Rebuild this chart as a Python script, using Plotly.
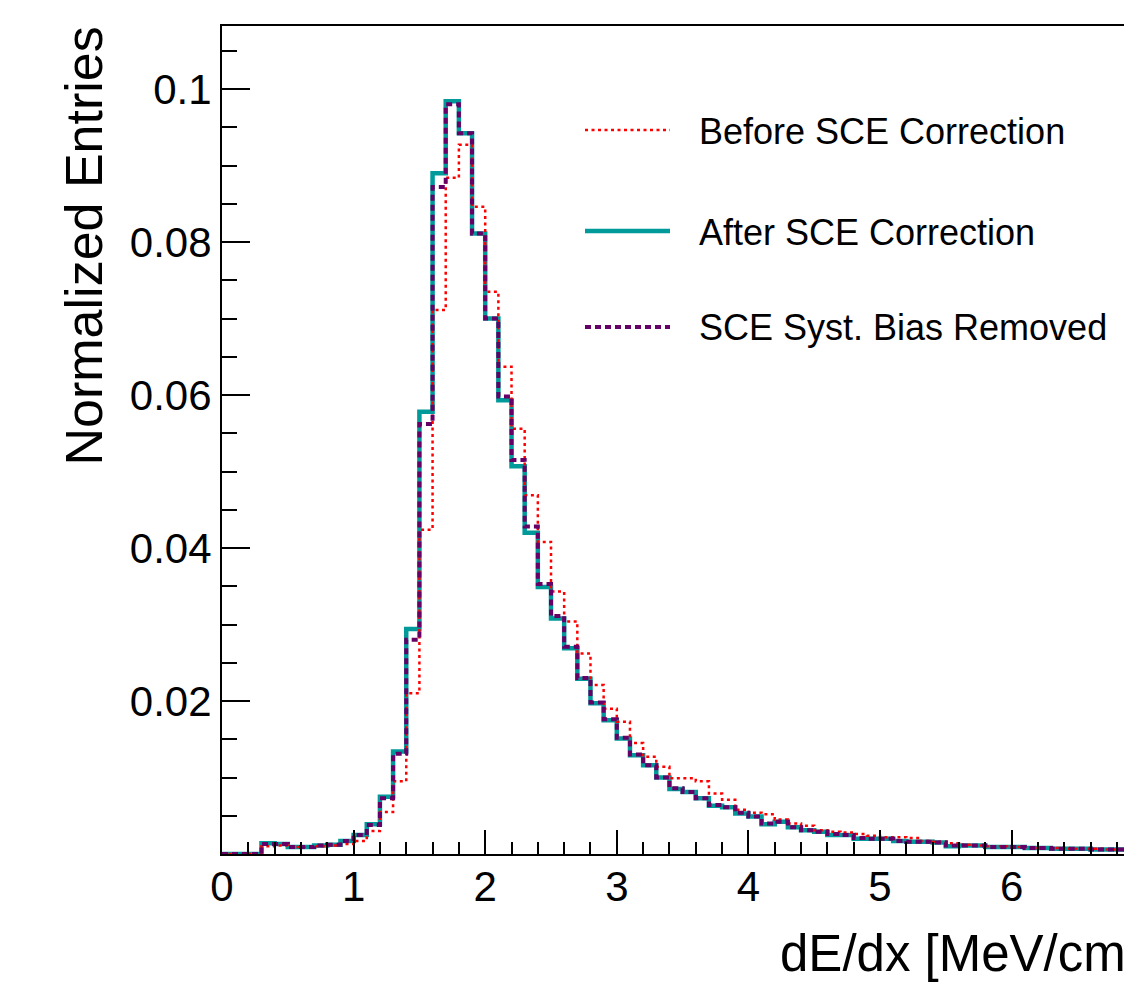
import plotly.graph_objects as go

# ---- data (bin width 0.1, bins start at these lower edges) ----
bin_low = [round(0.1 * i, 1) for i in range(69)]  # 0.0 ... 6.8
bin_width = 0.1

after_sce = [
    0.0, 0.0, 0.0, 0.0014, 0.0013, 0.0009, 0.0009, 0.0011, 0.0012, 0.0017,
    0.0025, 0.0039, 0.0075, 0.0134, 0.0294, 0.0578, 0.0890, 0.0984, 0.0942, 0.0811,
    0.0700, 0.0593, 0.0507, 0.0420, 0.0349, 0.0308, 0.0269, 0.0229, 0.0197, 0.0175,
    0.0151, 0.0129, 0.0116, 0.0100, 0.0085, 0.0081, 0.0073, 0.0063, 0.0061, 0.0053,
    0.0049, 0.0039, 0.0042, 0.0035, 0.0031, 0.0029, 0.0025, 0.0025, 0.0020, 0.0020,
    0.0020, 0.0017, 0.0016, 0.0016, 0.0015, 0.0010, 0.0011, 0.0011, 0.0009, 0.0009,
    0.0009, 0.0008, 0.0008, 0.0007, 0.0007, 0.0007, 0.0006, 0.0006, 0.0006,
]

bias_removed = [
    0.0, 0.0, 0.0, 0.0013, 0.0013, 0.0009, 0.0009, 0.0011, 0.0012, 0.0017,
    0.0025, 0.0038, 0.0073, 0.0131, 0.0280, 0.0562, 0.0872, 0.0980, 0.0942, 0.0811,
    0.0700, 0.0598, 0.0515, 0.0428, 0.0353, 0.0311, 0.0271, 0.0230, 0.0198, 0.0176,
    0.0152, 0.0130, 0.0116, 0.0100, 0.0086, 0.0081, 0.0073, 0.0064, 0.0061, 0.0054,
    0.0049, 0.0040, 0.0042, 0.0035, 0.0031, 0.0029, 0.0026, 0.0025, 0.0021, 0.0020,
    0.0020, 0.0017, 0.0016, 0.0016, 0.0015, 0.0011, 0.0011, 0.0011, 0.0009, 0.0009,
    0.0009, 0.0008, 0.0008, 0.0007, 0.0007, 0.0007, 0.0006, 0.0006, 0.0006,
]

before_sce = [
    0.0, 0.0, 0.0, 0.0010, 0.0011, 0.0009, 0.0009, 0.0010, 0.0011, 0.0013,
    0.0017, 0.0030, 0.0055, 0.0095, 0.0210, 0.0424, 0.0711, 0.0884, 0.0927, 0.0846,
    0.0735, 0.0637, 0.0556, 0.0469, 0.0408, 0.0343, 0.0304, 0.0262, 0.0221, 0.0190,
    0.0173, 0.0145, 0.0127, 0.0114, 0.0099, 0.0099, 0.0095, 0.0079, 0.0071, 0.0058,
    0.0054, 0.0052, 0.0045, 0.0040, 0.0037, 0.0031, 0.0029, 0.0028, 0.0026, 0.0024,
    0.0022, 0.0022, 0.0021, 0.0017, 0.0016, 0.0014, 0.0012, 0.0011, 0.0010, 0.0010,
    0.0009, 0.0008, 0.0008, 0.0008, 0.0007, 0.0007, 0.0007, 0.0006, 0.0006,
]

series_names = ["Before SCE Correction", "After SCE Correction", "SCE Syst. Bias Removed"]
y_tick_vals = [0.02, 0.04, 0.06, 0.08, 0.1]
y_tick_text = ["0.02", "0.04", "0.06", "0.08", "0.1"]
x_tick_vals = [0, 1, 2, 3, 4, 5, 6]

# ---- styles ----
FONT = "Liberation Sans, Arial, Helvetica, sans-serif"
RED = "#ff0000"
TEAL = "#009a9a"
PURPLE = "#660066"

W, H = 1124, 985
L, R, T, B = 222, 0, 26, 131
PW, PH = W - L - R, H - T - B
X_PER_UNIT = 131.6
X_MAX = PW / X_PER_UNIT
Y_MAX = PH / 7650.0


def step_xy(vals):
    xs = list(bin_low) + [round(bin_low[-1] + bin_width, 1)]
    ys = list(vals) + [vals[-1]]
    return xs, ys


fig = go.Figure()

styles = {
    "after": dict(color=TEAL, width=4.5, dash="solid"),
    "before": dict(color=RED, width=2.5, dash="3px,3.5px"),
    "bias": dict(color=PURPLE, width=4, dash="6px,4px"),
}

for key, vals, name in [("after", after_sce, series_names[1]),
                        ("before", before_sce, series_names[0]),
                        ("bias", bias_removed, series_names[2])]:
    xs, ys = step_xy(vals)
    fig.add_trace(go.Scatter(x=xs, y=ys, mode="lines", name=name,
                             line=dict(shape="hv", **styles[key]),
                             showlegend=False, hoverinfo="skip"))

# ---- manual legend ----
def px_x(px):
    return (px - L) / PW


def px_y(py):
    return (H - B - py) / PH


legend_rows = [(series_names[0], "before", 130), (series_names[1], "after", 231),
               (series_names[2], "bias", 327)]
shapes = []
annotations = []
for name, key, py in legend_rows:
    st = styles[key]
    shapes.append(dict(type="line", xref="paper", yref="paper",
                       x0=px_x(585), x1=px_x(670), y0=px_y(py), y1=px_y(py),
                       line=dict(color=st["color"], width=st["width"], dash=st["dash"])))
    annotations.append(dict(text=name, xref="paper", yref="paper", x=px_x(697), y=px_y(py + 1),
                            xanchor="left", yanchor="middle", showarrow=False,
                            font=dict(family=FONT, size=36, color="black")))

annotations.append(dict(text="Normalized Entries", xref="paper", yref="paper",
                        x=px_x(84), y=px_y(246.5), xanchor="center", yanchor="middle",
                        textangle=-90, showarrow=False,
                        font=dict(family=FONT, size=52, color="black")))
annotations.append(dict(text="dE/dx [MeV/cm]", xref="paper", yref="paper",
                        x=px_x(778), y=px_y(953), xanchor="left", yanchor="middle",
                        showarrow=False, font=dict(family=FONT, size=51, color="black")))

fig.update_layout(
    width=W, height=H,
    margin=dict(l=L, r=R, t=T, b=B, pad=0),
    paper_bgcolor="white", plot_bgcolor="white",
    font=dict(family=FONT, color="black"),
    shapes=shapes, annotations=annotations,
    showlegend=False,
)

fig.update_xaxes(
    range=[0, X_MAX], showgrid=False, zeroline=False,
    showline=True, linecolor="black", linewidth=2, mirror=True,
    tickmode="array", tickvals=x_tick_vals,
    ticks="inside", ticklen=24, tickwidth=2, tickcolor="black",
    ticklabelstandoff=-5,
    tickfont=dict(family=FONT, size=42, color="black"),
    minor=dict(tickmode="linear", tick0=0, dtick=0.2, ticks="inside",
               ticklen=12, tickwidth=2, tickcolor="black", showgrid=False),
)
fig.update_yaxes(
    range=[0, Y_MAX], showgrid=False, zeroline=False,
    showline=True, linecolor="black", linewidth=2, mirror=False,
    tickmode="array", tickvals=y_tick_vals, ticktext=y_tick_text,
    ticks="inside", ticklen=28, tickwidth=2, tickcolor="black",
    tickfont=dict(family=FONT, size=42, color="black"),
    minor=dict(tickmode="linear", tick0=0, dtick=0.005, ticks="inside",
               ticklen=15, tickwidth=2, tickcolor="black", showgrid=False),
)

fig.write_html("out.html")
